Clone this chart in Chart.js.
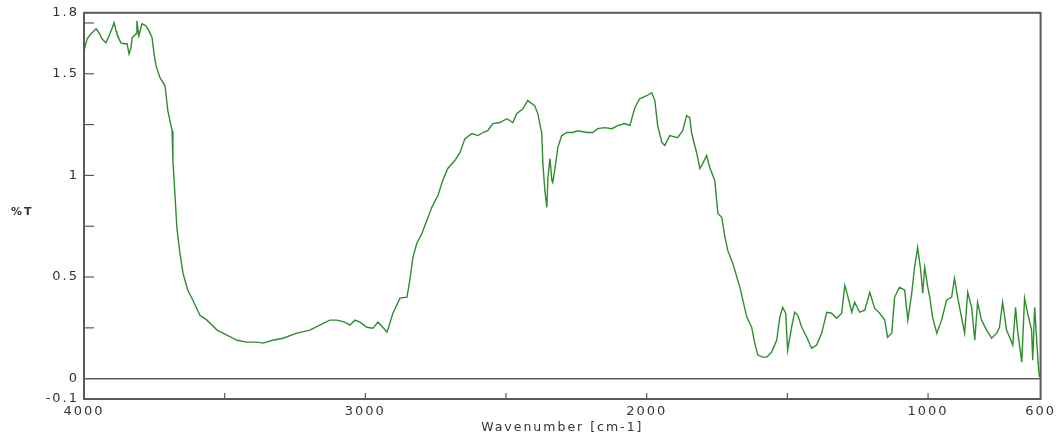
<!DOCTYPE html>
<html>
<head>
<meta charset="utf-8">
<title>Espectro IR</title>
<script src="https://cdn.jsdelivr.net/npm/chart.js@4.4.1/dist/chart.umd.min.js"></script>
<style>
    html, body { margin: 0; padding: 0; background: #fff; }
    #box { width: 1058px; height: 437px; position: relative; }
</style>
</head>
<body>
<div id="box"><canvas id="irChart"></canvas></div>
<script>
const numeroOnda = [
    4000, 3989, 3975, 3957, 3947, 3936, 3922, 3911, 3901, 3893, 3886, 3883, 3869, 3858, 3847, 3840,
    3833, 3829, 3815, 3812, 3805, 3794, 3780, 3769, 3758, 3751, 3744, 3730, 3712, 3702, 3687, 3684,
    3677, 3670, 3659, 3648, 3631, 3613, 3588, 3563, 3527, 3492, 3456, 3421, 3385, 3364, 3329, 3293,
    3243, 3197, 3162, 3126, 3101, 3073, 3055, 3037, 3019, 2995, 2973, 2955, 2938, 2923, 2902, 2877,
    2852, 2842, 2831, 2817, 2799, 2781, 2764, 2742, 2725, 2707, 2682, 2664, 2646, 2621, 2600, 2582,
    2565, 2547, 2522, 2497, 2476, 2462, 2440, 2423, 2398, 2387, 2373, 2369, 2362, 2355, 2351, 2344,
    2337, 2334, 2327, 2316, 2302, 2284, 2263, 2245, 2213, 2192, 2174, 2149, 2124, 2103, 2078, 2060,
    2042, 2025, 2000, 1982, 1971, 1961, 1946, 1936, 1918, 1890, 1872, 1858, 1847, 1840, 1822, 1811,
    1801, 1787, 1776, 1758, 1747, 1733, 1723, 1712, 1694, 1669, 1644, 1627, 1616, 1605, 1588, 1573,
    1556, 1538, 1527, 1517, 1506, 1499, 1485, 1474, 1463, 1449, 1431, 1414, 1396, 1378, 1360, 1343,
    1325, 1307, 1296, 1286, 1271, 1261, 1243, 1225, 1207, 1190, 1172, 1154, 1144, 1129, 1119, 1101,
    1083, 1072, 1058, 1048, 1037, 1026, 1019, 1012, 1001, 994, 984, 969, 952, 934, 916, 906,
    895, 881, 870, 859, 845, 834, 824, 810, 792, 774, 756, 746, 735, 721, 710, 699,
    689, 682, 667, 657, 646, 632, 628, 621, 614, 607, 604
];
const transmitancia = [
    1.613, 1.672, 1.697, 1.721, 1.702, 1.672, 1.652, 1.687, 1.721, 1.751, 1.711, 1.697, 1.652, 1.648, 1.648, 1.598,
    1.628, 1.677, 1.697, 1.760, 1.687, 1.746, 1.736, 1.711, 1.677, 1.598, 1.540, 1.481, 1.441, 1.319, 1.220, 1.073,
    0.911, 0.744, 0.617, 0.518, 0.435, 0.386, 0.312, 0.288, 0.239, 0.214, 0.189, 0.180, 0.180, 0.175, 0.189, 0.199,
    0.224, 0.239, 0.263, 0.288, 0.288, 0.278, 0.263, 0.288, 0.278, 0.253, 0.248, 0.278, 0.253, 0.229, 0.322, 0.396,
    0.401, 0.484, 0.597, 0.666, 0.715, 0.779, 0.842, 0.901, 0.975, 1.034, 1.073, 1.112, 1.181, 1.206, 1.196, 1.211,
    1.220, 1.255, 1.260, 1.279, 1.260, 1.304, 1.328, 1.368, 1.343, 1.304, 1.206, 1.058, 0.926, 0.842, 0.990, 1.083,
    0.975, 0.965, 1.024, 1.137, 1.196, 1.211, 1.211, 1.220, 1.211, 1.211, 1.230, 1.235, 1.230, 1.245, 1.255, 1.245,
    1.333, 1.377, 1.392, 1.407, 1.368, 1.245, 1.162, 1.147, 1.196, 1.186, 1.220, 1.294, 1.284, 1.206, 1.108, 1.034,
    1.058, 1.098, 1.039, 0.975, 0.813, 0.793, 0.705, 0.631, 0.567, 0.450, 0.302, 0.253, 0.175, 0.116, 0.106, 0.106,
    0.131, 0.189, 0.302, 0.351, 0.322, 0.140, 0.253, 0.327, 0.312, 0.253, 0.204, 0.150, 0.165, 0.224, 0.327, 0.322,
    0.297, 0.322, 0.459, 0.410, 0.327, 0.376, 0.327, 0.337, 0.425, 0.347, 0.322, 0.288, 0.204, 0.224, 0.401, 0.450,
    0.435, 0.288, 0.420, 0.548, 0.646, 0.533, 0.420, 0.548, 0.450, 0.401, 0.302, 0.224, 0.288, 0.386, 0.401, 0.494,
    0.401, 0.302, 0.224, 0.425, 0.351, 0.189, 0.376, 0.288, 0.239, 0.199, 0.224, 0.253, 0.376, 0.239, 0.204, 0.165,
    0.351, 0.239, 0.081, 0.396, 0.322, 0.239, 0.091, 0.351, 0.189, 0.042, 0.008
];

// Eixos
const xRotulos = [4000, 3000, 2000, 1000, 600];
const xMarcas = [3500, 3000, 2500, 2000, 1500, 1000];
const yRotulos = [1.8, 1.5, 1, 0.5, 0, -0.1];
const yMarcas = [1.75, 1.5, 1.25, 1, 0.75, 0.5, 0.25];

const verde = '#2e8d2e';
const cinza = '#5a5a5a';
const corTexto = '#333';
const fonteTick = { family: '"DejaVu Sans", sans-serif', size: 13 };

// moldura, linha do zero, marcas internas e o "%T"
const molduraPlugin = {
    id: 'moldura',
    beforeDraw(chart) {
        chart.ctx.letterSpacing = '2px';
    },
    afterDatasetsDraw(chart) {
        const { ctx, chartArea: a, scales } = chart;
        ctx.save();
        ctx.strokeStyle = cinza;

        // linha do zero
        const y0 = scales.y.getPixelForValue(0);
        ctx.lineWidth = 1.5;
        ctx.beginPath();
        ctx.moveTo(a.left, y0);
        ctx.lineTo(a.right, y0);
        ctx.stroke();

        ctx.lineWidth = 1.2;
        yMarcas.forEach(v => {
            const y = scales.y.getPixelForValue(v);
            ctx.beginPath();
            ctx.moveTo(a.left, y);
            ctx.lineTo(a.left + 10, y);
            ctx.stroke();
        });
        xMarcas.forEach(v => {
            const x = scales.x.getPixelForValue(v);
            ctx.beginPath();
            ctx.moveTo(x, a.bottom);
            ctx.lineTo(x, a.bottom - 6);
            ctx.stroke();
        });

        ctx.lineWidth = 2;
        ctx.strokeRect(a.left, a.top, a.right - a.left, a.bottom - a.top);

        ctx.fillStyle = corTexto;
        ctx.font = 'bold 11px "DejaVu Sans", sans-serif';
        ctx.textAlign = 'left';
        ctx.textBaseline = 'middle';
        ctx.fillText('%T', 11, 212);
        ctx.restore();
    }
};

const ctx = document.getElementById('irChart');

new Chart(ctx, {
    type: 'line',
    data: {
        datasets: [{
            label: '%T',
            data: numeroOnda.map((x, i) => ({ x: x, y: transmitancia[i] })),
            borderColor: verde,
            borderWidth: 1.4,
            pointRadius: 0,
            tension: 0,
            fill: false
        }]
    },
    options: {
        responsive: true,
        maintainAspectRatio: false,
        animation: false,
        layout: { padding: { top: 10, right: 17, left: 0, bottom: 0 } },
        plugins: { legend: { display: false }, tooltip: { enabled: false } },
        scales: {
            x: {
                type: 'linear',
                reverse: true,
                min: 600,
                max: 4000,
                grid: { display: false, drawTicks: false },
                border: { display: false },
                afterBuildTicks: scale => { scale.ticks = xRotulos.map(v => ({ value: v })); },
                afterFit: scale => { scale.height = 38; },
                ticks: {
                    autoSkip: false,
                    maxRotation: 0,
                    padding: 5,
                    color: corTexto,
                    font: fonteTick,
                    callback: v => String(v)
                },
                title: {
                    display: true,
                    text: 'Wavenumber [cm-1]',
                    color: corTexto,
                    font: { family: '"DejaVu Sans", sans-serif', size: 12.5 },
                    padding: { top: 0, bottom: 2 }
                }
            },
            y: {
                min: -0.1,
                max: 1.8,
                grid: { display: false, drawTicks: false },
                border: { display: false },
                afterBuildTicks: scale => { scale.ticks = yRotulos.map(v => ({ value: v })); },
                afterFit: scale => { scale.width = 84; },
                ticks: {
                    autoSkip: false,
                    padding: 5,
                    color: corTexto,
                    font: fonteTick,
                    callback: v => String(v)
                }
            }
        }
    },
    plugins: [molduraPlugin]
});
</script>
</body>
</html>
